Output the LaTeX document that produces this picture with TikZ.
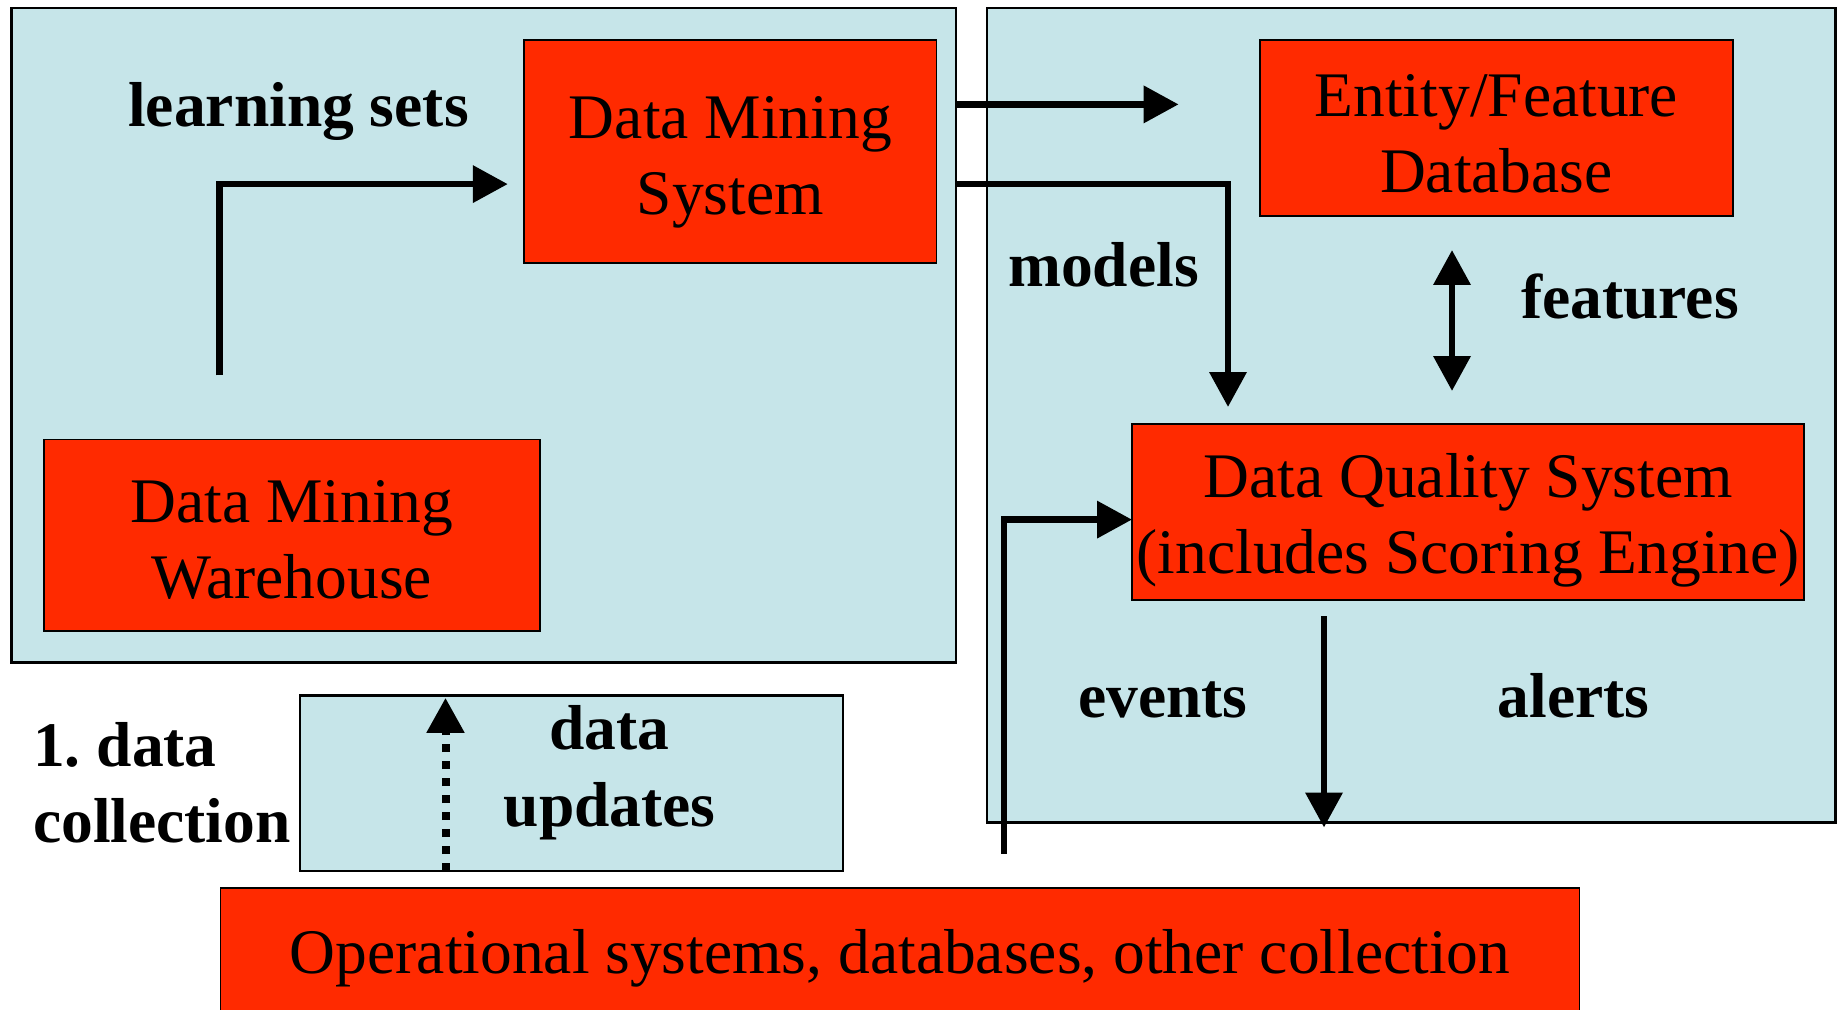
\documentclass[tikz,border=0pt]{standalone}
\usepackage{fontspec}
\setmainfont{Liberation Serif}
\usetikzlibrary{arrows.meta}
\definecolor{panelblue}{HTML}{C6E5E9}
\definecolor{boxred}{HTML}{FF2A00}
\frenchspacing
\begin{document}
\begin{tikzpicture}[x=0.5pt,y=-0.5pt,
  panel/.style={draw=black, line width=1.25pt, fill=panelblue, inner sep=0pt, outer sep=0pt},
  redbox/.style={draw=black, line width=0.9pt, fill=boxred, inner sep=0pt, outer sep=0pt,
    font=\fontsize{31.75pt}{38pt}\selectfont},
  boxtext/.style={align=center, font=\fontsize{31.75pt}{38pt}\selectfont, inner sep=0pt},
  lbl/.style={font=\fontsize{31.75pt}{38pt}\selectfont\bfseries, inner sep=0pt, anchor=base},
  conn/.style={line width=3.4pt, -{Triangle[length=17.5pt, width=18pt]}},
  dconn/.style={line width=4pt, dash pattern=on 4pt off 4.5pt, -{Triangle[length=17.5pt, width=18pt]}},
  biconn/.style={line width=3.4pt, {Triangle[length=17.5pt, width=18pt]}-{Triangle[length=17.5pt, width=18pt]}}
]
\path[use as bounding box] (0,0) rectangle (1839,1010);
\clip (0,0) rectangle (1839,1010);

% panels
\node[panel, minimum width=472.15pt, minimum height=327.2pt] (lp) at (483.85,335.4) {};
\node[panel, minimum width=424.15pt, minimum height=407.25pt] (rp) at (1411.35,415.25) {};
\node[panel, minimum width=271.5pt, minimum height=87.75pt] (ub) at (571.7,783.25) {};

% red boxes
\node[redbox, minimum width=206.15pt, minimum height=111.65pt] (dms) at (730.35,151.65) {};
\node[boxtext] (dmsT) at (730.35,162) {Data Mining\\System};
\node[redbox, minimum width=248.15pt, minimum height=95.75pt] (dmw) at (291.85,535.25) {};
\node[boxtext] (dmwT) at (291.85,539.5) {Data Mining\\Warehouse};
\node[redbox, minimum width=236.6pt, minimum height=88.1pt] (efd) at (1496.4,127.9) {};
\node[boxtext] (efdT) at (1496.4,133.5) {Entity/Feature\\Database};
\node[redbox, minimum width=336.15pt, minimum height=88.15pt] (dqs) at (1468.15,511.85) {};
\node[boxtext] (dqsT) at (1468.15,519.85) {Data Quality System\\(includes Scoring Engine)};
\node[redbox, minimum width=679.5pt, minimum height=70.5pt] (ops) at (900,958.5) {Operational systems, databases, other collection};

% labels
\node[lbl] (ls) at (298.5,127) {learning sets};
\node[lbl] (models) at (1103.5,286.5) {models};
\node[lbl] (feat) at (1630,318.7) {features};
\node[lbl] (ev) at (1163,717.7) {events};
\node[lbl] (al) at (1573.5,717.7) {alerts};
\node[lbl, anchor=base west] (dc1) at (32.8,766.7) {1. data};
\node[lbl, anchor=base west] (dc2) at (32.8,842.7) {collection};
\node[lbl] (du1) at (609.6,749) {data};
\node[lbl] (du2) at (609.6,826.7) {updates};

% connectors
\draw[conn, shorten <=32.1pt, shorten >=8.2pt] (219.3,0 |- dmw.north) |- (dms.west |- 0,184.1);
\draw[conn, shorten >=40.6pt] (lp.east |- 0,104.4) -- (efd.west |- 0,104.4);
\draw[conn, shorten >=8.35pt] (lp.east |- 0,184.1) -| (1228,0 |- dqs.north);
\draw[biconn, shorten <=17pt, shorten >=16.35pt] (1452,0 |- efd.south) -- (1452,0 |- dqs.north);
\draw[conn, shorten <=17.1pt] (1003.9,0 |- ops.north) |- (dqs.west |- 0,519.6);
\draw[conn, shorten <=8pt, shorten >=-2.5pt] (1324,0 |- dqs.south) -- (1324,0 |- rp.south);
\draw[dconn, shorten >=1.15pt] (445.5,0 |- ub.south) -- (445.5,0 |- ub.north);
\end{tikzpicture}
\end{document}
